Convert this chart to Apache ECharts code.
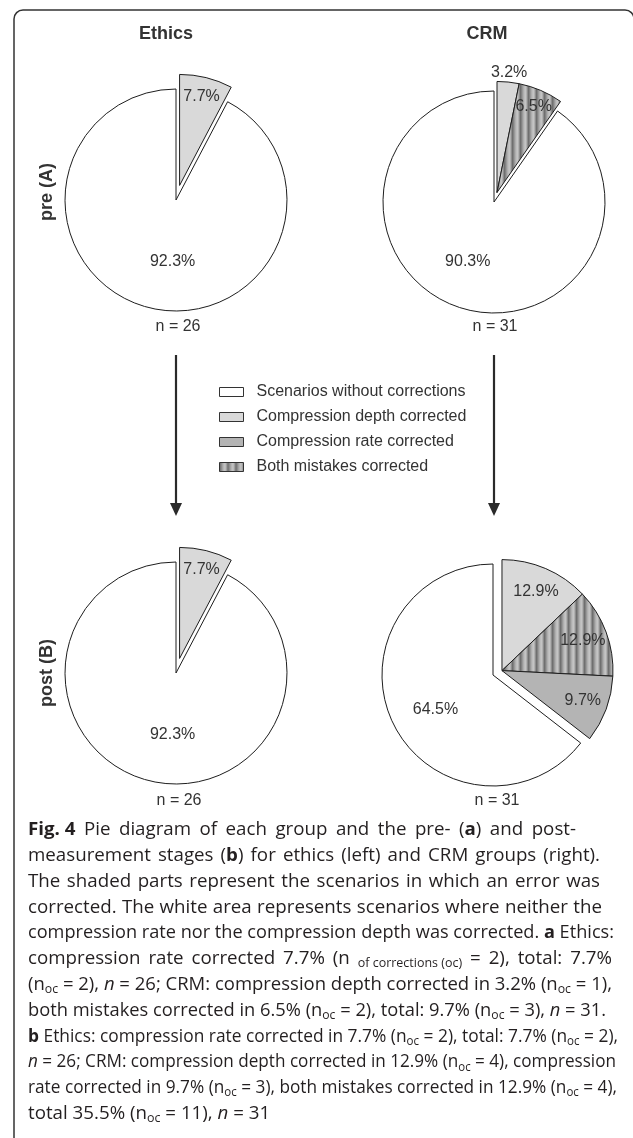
<!DOCTYPE html>
<html><head><meta charset="utf-8">
<script src="https://cdn.jsdelivr.net/npm/echarts@6/dist/echarts.min.js"></script>
<style>html,body{margin:0;padding:0;background:#fff;}#c{width:633px;height:1138px;}</style>
</head><body><div id="c"></div>
<script>
// ---------- data ----------
const categories = ['Scenarios without corrections','Compression depth corrected','Compression rate corrected','Both mistakes corrected'];
const groupTitles = ['Ethics','CRM'];
const stageTitles = ['pre (A)','post (B)'];
// percentages per category (same order as categories)
const ethicsPre  = [92.3, 7.7, 0, 0];
const crmPre     = [90.3, 3.2, 0, 6.5];
const ethicsPost = [92.3, 7.7, 0, 0];
const crmPost    = [64.5, 12.9, 9.7, 12.9];
const sampleEthics = [26, 26];
const sampleCRM    = [31, 31];
const captionLines = [
  '{b|Fig. 4} Pie diagram of each group and the pre- ({b|a}) and post-',
  'measurement stages ({b|b}) for ethics (left) and CRM groups (right).',
  'The shaded parts represent the scenarios in which an error was',
  'corrected. The white area represents scenarios where neither the',
  'compression rate nor the compression depth was corrected. {b|a} Ethics:',
  'compression rate corrected 7.7% (n {s|of corrections (oc)} = 2), total: 7.7%',
  '(n{s|oc} = 2), {i|n} = 26; CRM: compression depth corrected in 3.2% (n{s|oc} = 1),',
  'both mistakes corrected in 6.5% (n{s|oc} = 2), total: 9.7% (n{s|oc} = 3), {i|n} = 31.',
  '{b|b} Ethics: compression rate corrected in 7.7% (n{s|oc} = 2), total: 7.7% (n{s|oc} = 2),',
  '{i|n} = 26; CRM: compression depth corrected in 12.9% (n{s|oc} = 4), compression',
  'rate corrected in 9.7% (n{s|oc} = 3), both mistakes corrected in 12.9% (n{s|oc} = 4),',
  'total 35.5% (n{s|oc} = 11), {i|n} = 31'
];

// ---------- layout / style ----------
const R = 111;
const sliceOrder = [1, 3, 2]; // clockwise from 12 o'clock, before the white part
const panels = [
  {values: ethicsPre,  n: sampleEthics[0], center: [176, 200], offset: 15, inner: 0.6,  whiteOff: [12, -1], outside: []},
  {values: crmPre,     n: sampleCRM[0],    center: [494, 202], offset: 10, inner: 0.62, whiteOff: [-7, -2], outside: ['Compression depth corrected']},
  {values: ethicsPost, n: sampleEthics[1], center: [176, 673], offset: 15, inner: 0.6,  whiteOff: [12, -1], outside: []},
  {values: crmPost,    n: sampleCRM[1],    center: [493, 675], offset: 10, inner: 0.5,  whiteOff: [0, 6],  outside: []}
];
const nPos = [[178, 327], [495, 327], [179, 801], [497, 801]];
// right end (px) of each caption line in the reference (justified block); null = natural width
const captionRight = [576, 600, 600, 602, 614, 612, 612, 606, 618, 616, 617, null];
function stripeCanvas() {
  const c = document.createElement('canvas'); c.width = 8; c.height = 8;
  const g = c.getContext('2d');
  ['#6f6f6f','#828282','#999999','#aeaeae','#bdbdbd','#c4c4c4','#b0b0b0','#8e8e8e'].forEach((s, i) => { g.fillStyle = s; g.fillRect(i, 0, 1, 8); });
  return c;
}
const fills = {
  'Scenarios without corrections': '#ffffff',
  'Compression depth corrected': '#d9d9d9',
  'Compression rate corrected': '#b4b4b4',
  'Both mistakes corrected': {image: stripeCanvas(), repeat: 'repeat'}
};
const edge = {borderColor: '#1e1e1e', borderWidth: 1};
const clear = {color: 'rgba(0,0,0,0)', borderWidth: 0};
const FONT = 'Liberation Sans, Arial, sans-serif';
const labelText = {color: '#333', fontSize: 16, fontFamily: FONT};
const fmt = q => q.value.toFixed(1) + '%';
const common = {type: 'pie', startAngle: 90, clockwise: true, silent: true, animation: false,
  avoidLabelOverlap: false, labelLine: {show: false}, emphasis: {disabled: true}, minAngle: 0};

const series = [];
panels.forEach((p, k) => {
  const total = p.values.reduce((a, b) => a + b, 0);
  const white = p.values[0];
  const corrected = sliceOrder.filter(i => p.values[i] > 0).map(i => ({name: categories[i], value: p.values[i]}));
  const groupSum = corrected.reduce((a, d) => a + d.value, 0);
  const half = (groupSum / total) * Math.PI;
  const c2 = [p.center[0] + p.offset * Math.sin(half), p.center[1] - p.offset * Math.cos(half)];
  series.push(Object.assign({}, common, {center: p.center, radius: [0, R], label: {show: false},
    data: [{name: '_g' + k, value: groupSum, itemStyle: clear},
           {name: categories[0], value: white, itemStyle: Object.assign({color: fills[categories[0]]}, edge)}]}));
  series.push(Object.assign({}, common, {center: p.center, radius: [R * 0.1, R], itemStyle: clear,
    label: Object.assign({show: true, position: 'inside', rotate: 0, formatter: fmt, offset: p.whiteOff}, labelText),
    data: [{name: '_gl' + k, value: groupSum, label: {show: false}}, {name: '_wl' + k, value: white}]}));
  series.push(Object.assign({}, common, {center: c2, radius: [0, R], label: {show: false},
    data: corrected.map(d => ({name: d.name, value: d.value, itemStyle: Object.assign({color: fills[d.name]}, edge)}))
      .concat([{name: '_r' + k, value: white, itemStyle: clear}])}));
  series.push(Object.assign({}, common, {center: c2, radius: [R * p.inner, R], itemStyle: clear,
    label: Object.assign({position: 'inside', rotate: 0, formatter: fmt}, labelText),
    data: corrected.map((d, j) => ({name: '_cl' + k + '_' + j, value: d.value, label: {show: !p.outside.includes(d.name)}}))
      .concat([{name: '_rl' + k, value: white, label: {show: false}}])}));
  if (p.outside.length) {
    series.push(Object.assign({}, common, {center: c2, radius: [R * 0.96, R * 1.16], itemStyle: clear,
      label: Object.assign({position: 'inside', rotate: 0, formatter: fmt}, labelText),
      data: corrected.map((d, j) => ({name: '_co' + k + '_' + j, value: d.value, label: {show: p.outside.includes(d.name)}}))
        .concat([{name: '_ro' + k, value: white, label: {show: false}}])}));
  }
});

// ---------- decorations ----------
const graphic = [];
graphic.push({type: 'rect', silent: true, shape: {x: 14, y: 10, width: 620, height: 1200, r: [9, 9, 0, 0]},
  style: {fill: null, stroke: '#333', lineWidth: 1.5}});
const titleX = [166, 487];
groupTitles.forEach((t, i) => graphic.push({type: 'text', x: titleX[i], y: 34, silent: true,
  style: {text: t, fontSize: 18, fontWeight: 'bold', fontFamily: FONT, fill: '#333', align: 'center', verticalAlign: 'middle'}}));
const stageY = [192, 673];
stageTitles.forEach((t, i) => graphic.push({type: 'text', x: 47, y: stageY[i], rotation: Math.PI / 2, silent: true,
  style: {text: t, fontSize: 18, fontWeight: 'bold', fontFamily: FONT, fill: '#333', align: 'center', verticalAlign: 'middle'}}));
panels.forEach((p, k) => graphic.push({type: 'text', x: nPos[k][0], y: nPos[k][1], silent: true,
  style: {text: 'n = ' + p.n, fontSize: 16, fontFamily: FONT, fill: '#333', align: 'center', verticalAlign: 'middle'}}));
[176, 494].forEach(x => {
  graphic.push({type: 'line', silent: true, shape: {x1: x, y1: 355, x2: x, y2: 506}, style: {stroke: '#2a2a2a', lineWidth: 2.2}});
  graphic.push({type: 'polygon', silent: true, shape: {points: [[x - 6, 503], [x + 6, 503], [x, 516]]}, style: {fill: '#2a2a2a'}});
});

// caption: justified lines (glyphs widened up to GMAX, remaining width spread over word spaces)
const CF = '"Open Sans", "Noto Sans", sans-serif';
const CS = 18, SUB = 12, CLH = 22, CX = 28, GMAX = 1.04;
const INK = '#231f20';
const capRich = {
  b: {fontWeight: 'bold', fontSize: CS, fontFamily: CF, fill: INK, lineHeight: CLH},
  i: {fontStyle: 'italic', fontSize: CS, fontFamily: CF, fill: INK, lineHeight: CLH},
  s: {fontSize: SUB, fontFamily: CF, fill: INK, lineHeight: 10, verticalAlign: 'bottom'}
};
const mctx = document.createElement('canvas').getContext('2d');
const tokenFont = {'': CS + 'px ' + CF, b: 'bold ' + CS + 'px ' + CF, i: 'italic ' + CS + 'px ' + CF, s: SUB + 'px ' + CF};
const mw = (s, txt) => { mctx.font = tokenFont[s]; return mctx.measureText(txt).width; };
const spaceW = mw('', ' ');
function segments(t) {
  const out = []; const re = /\{(\w)\|([^}]*)\}/g; let m, last = 0;
  while ((m = re.exec(t))) { if (m.index > last) out.push(['', t.slice(last, m.index)]); out.push([m[1], m[2]]); last = re.lastIndex; }
  if (last < t.length) out.push(['', t.slice(last)]);
  return out;
}
captionLines.forEach((t, i) => {
  const segs = segments(t);
  let inkW = 0, nSp = 0;
  segs.forEach(([s, txt]) => {
    if (s) { inkW += mw(s, txt); return; }
    txt.split(' ').forEach((w, j) => { if (j > 0) nSp++; inkW += mw('', w); });
  });
  const natural = inkW + nSp * spaceW;
  const target = captionRight[i] == null ? natural * GMAX : captionRight[i] - CX;
  const g = Math.min(GMAX, target / natural);
  const spW = (target / g - inkW) / nSp;
  const key = 'sp' + i;
  capRich[key] = {width: spW, fontSize: CS, fontFamily: CF, lineHeight: CLH};
  const txt = segs.map(([s, x]) => s ? '{' + s + '|' + x + '}' : x.split(' ').join('{' + key + '| }')).join('');
  graphic.push({type: 'text', x: CX, y: 830 + i * 25.8, scaleX: g, silent: true,
    style: {text: txt, fontSize: CS, fontFamily: CF, fill: INK, lineHeight: CLH, align: 'left', verticalAlign: 'middle', rich: capRich}});
});

const chart = echarts.init(document.getElementById('c'), null, {renderer: 'canvas'});
chart.setOption({
  animation: false,
  backgroundColor: '#fff',
  legend: {orient: 'vertical', left: 214, top: 379, itemWidth: 24, itemHeight: 9, itemGap: 9, selectedMode: false,
    textStyle: {fontSize: 16, color: '#333', fontFamily: FONT, padding: [0, 0, 0, 8]},
    data: categories.map(n => ({name: n, icon: 'rect', itemStyle: {color: fills[n], borderColor: '#333', borderWidth: 1}}))},
  series: series,
  graphic: graphic
});
</script></body></html>
